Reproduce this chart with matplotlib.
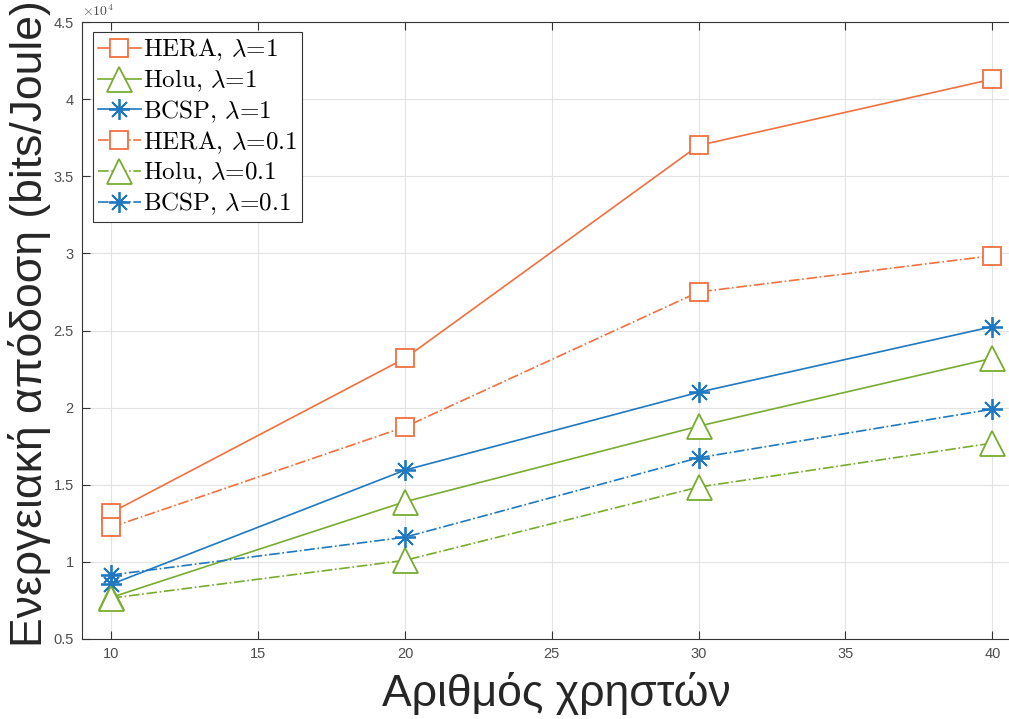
import numpy as np
import matplotlib.pyplot as plt
from matplotlib.ticker import FuncFormatter

plt.rcParams['font.family'] = ['Liberation Sans', 'DejaVu Sans']
plt.rcParams['mathtext.fontset'] = 'cm'

users = [10, 20, 30, 40]

hera_1 = [1.32e4, 2.32e4, 3.70e4, 4.13e4]
holu_1 = [0.77e4, 1.39e4, 1.88e4, 2.32e4]
bcsp_1 = [0.855e4, 1.595e4, 2.10e4, 2.525e4]
hera_01 = [1.225e4, 1.875e4, 2.75e4, 2.985e4]
holu_01 = [0.765e4, 1.01e4, 1.485e4, 1.77e4]
bcsp_01 = [0.915e4, 1.16e4, 1.675e4, 1.99e4]

orange = '#F0703F'
green = '#77AC30'
blue = '#1F78C0'
star = (8, 2, 0)

series = [
    (hera_1, 'HERA, $\\lambda$=1', orange, 's', 12.5, '-'),
    (holu_1, 'Holu, $\\lambda$=1', green, '^', 18, '-'),
    (bcsp_1, 'BCSP, $\\lambda$=1', blue, star, 15, '-'),
    (hera_01, 'HERA, $\\lambda$=0.1', orange, 's', 12.5, '-.'),
    (holu_01, 'Holu, $\\lambda$=0.1', green, '^', 18, '-.'),
    (bcsp_01, 'BCSP, $\\lambda$=0.1', blue, star, 15, '-.'),
]

fig = plt.figure(figsize=(10.09, 7.19), dpi=100)
ax = fig.add_axes([0.0813, 0.1113, 0.94, 0.858])

for vals, lab, col, mk, ms, ls in series:
    ax.plot(users, vals, linestyle=ls, color=col, marker=mk, markersize=ms,
            markerfacecolor='white', markeredgecolor=col, markeredgewidth=1.3,
            linewidth=1.2, label=lab)

ax.set_xlim(9, 41.3)
ax.set_ylim(0.5e4, 4.5e4)
ax.set_xticks([10, 15, 20, 25, 30, 35, 40])
ax.set_yticks(np.arange(0.5e4, 4.51e4, 0.5e4))
ax.yaxis.set_major_formatter(FuncFormatter(lambda v, p: f'{v/1e4:g}'))
ax.grid(True, color='#e3e3e3', linewidth=0.8)
ax.set_axisbelow(True)
ax.tick_params(direction='in', length=6, width=0.8, colors='#333333',
               labelcolor='#4d4d4d', labelsize=10.5, pad=6, top=True, right=True)
for s in ax.spines.values():
    s.set_color('#333333')
    s.set_linewidth(0.8)

ax.text(0.0, 1.005, r'$\times10^{4}$', transform=ax.transAxes, fontsize=10,
        color='#4d4d4d', ha='left', va='bottom')

ax.set_xlabel('Αριθμός χρηστών', fontsize=32, color='#262626', labelpad=8)
ax.set_ylabel('Ενεργειακή απόδοση (bits/Joule)', fontsize=32, color='#262626')
ax.yaxis.set_label_coords(-0.033, 0.511)

leg = ax.legend(loc='upper left', bbox_to_anchor=(0.0117, 0.984), borderaxespad=0,
                prop={'family': 'cmr10', 'size': 18}, handlelength=1.7,
                handletextpad=0.1, labelspacing=0.17, borderpad=0.2,
                fancybox=False, framealpha=1, edgecolor='#333333')
leg.get_frame().set_linewidth(0.8)

fig.savefig('out.png', dpi=100)
